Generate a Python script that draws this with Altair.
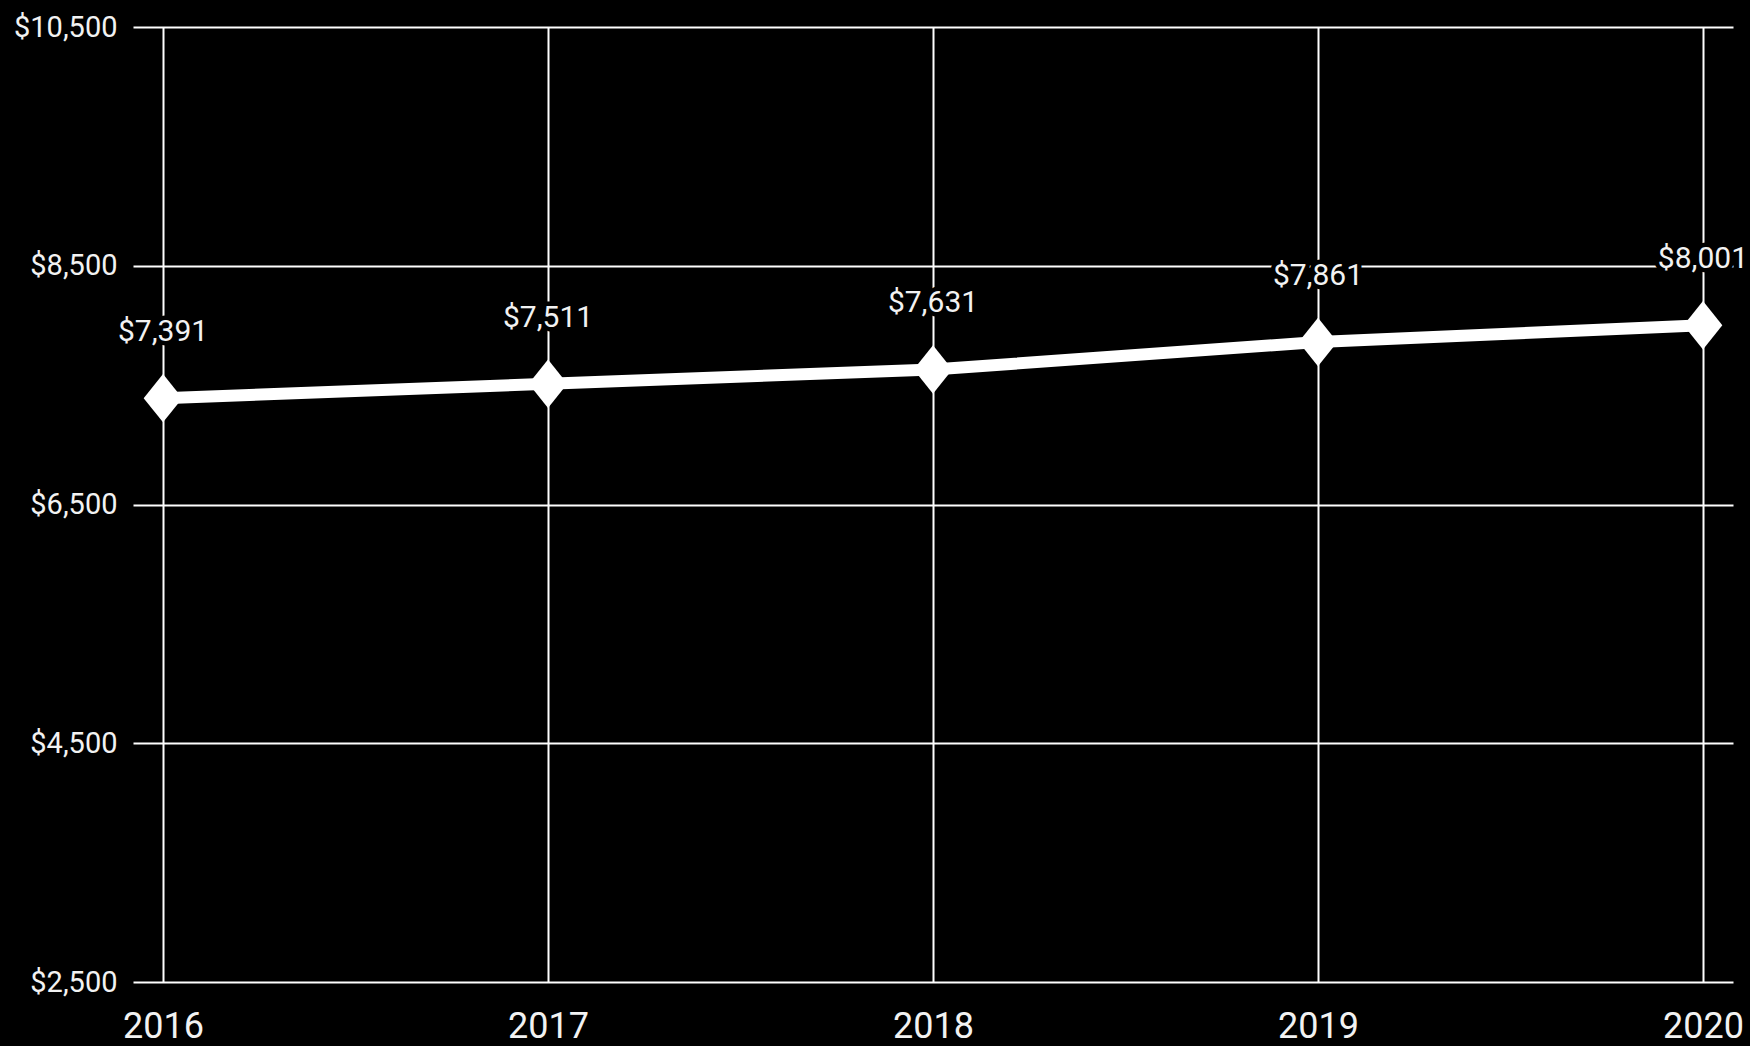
import altair as alt
import pandas as pd

years = ["2016", "2017", "2018", "2019", "2020"]
values = [7391, 7511, 7631, 7861, 8001]
labels = ["$7,391", "$7,511", "$7,631", "$7,861", "$8,001"]

df = pd.DataFrame({"year": years, "value": values, "label": labels})

# black page background (no white page margin)
try:
    import altair.utils.html as _ah
    _orig = _ah.TEMPLATES["standard"]

    class _BlackPage:
        def render(self, **kw):
            return _orig.render(**kw).replace(
                "<head>",
                "<head><style>html,body{background:#000;margin:0;overflow:hidden}</style>",
                1)

    _ah.TEMPLATES["standard"] = _BlackPage()
except Exception:
    pass

x = alt.X("year:O", title=None,
          scale=alt.Scale(type="point", padding=0.078),
          axis=alt.Axis(labelAngle=0, labelFontSize=36, labelColor="#f2f2f2",
                        labelFont="Roboto", labelPadding=27, ticks=False, tickSize=0,
                        domain=False, grid=True, gridColor="white", gridWidth=2,
                        gridOpacity=1))
y = alt.Y("value:Q", title=None,
          scale=alt.Scale(domain=[2500, 10500], nice=False, zero=False),
          axis=alt.Axis(values=[2500, 4500, 6500, 8500, 10500], format="$,d",
                        labelFontSize=29, labelColor="#f2f2f2", labelFont="Roboto",
                        labelPadding=16, ticks=False, tickSize=0, domain=False,
                        grid=True, gridColor="white", gridWidth=2, gridOpacity=1))

base = alt.Chart(df)

line = base.mark_line(color="white", strokeWidth=12).encode(x=x, y=y)
pts = base.mark_point(shape="M0,-1.25L1,0L0,1.25L-1,0Z", filled=True, color="white",
                      size=1500, opacity=1).encode(x=x, y=y)
halo = base.mark_text(color="black", stroke="black", strokeWidth=9, fontSize=30,
                      font="Roboto", baseline="middle", yOffset=-66,
                      strokeJoin="round").encode(x=x, y=y, text="label:N")
txt = base.mark_text(color="#f2f2f2", fontSize=30, font="Roboto", baseline="middle",
                     yOffset=-66).encode(x=x, y=y, text="label:N")

chart = alt.layer(line, pts, halo, txt).properties(
    width=1600, height=955,
    autosize=alt.AutoSizeParams(type="none"),
    padding={"left": 133, "top": 27, "right": 17, "bottom": 64},
    background="black",
).configure_view(stroke=None)

chart.save("out.html", embed_options={"renderer": "svg", "actions": False})
